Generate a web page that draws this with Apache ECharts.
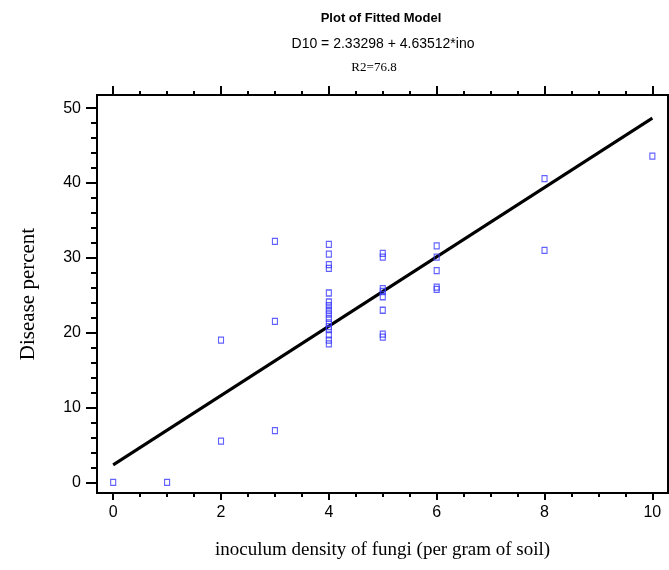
<!DOCTYPE html>
<html>
<head>
<meta charset="utf-8">
<script src="https://cdn.jsdelivr.net/npm/echarts@6/dist/echarts.min.js"></script>
<style>
html,body{margin:0;padding:0;background:#fff;}
#chart{width:669px;height:570px;}
</style>
</head>
<body>
<div id="chart"></div>
<script>
// ---- data ----
var pointX = [0, 1, 2, 2, 3, 3, 3,
  4, 4, 4, 4, 4, 4, 4, 4, 4, 4, 4, 4, 4, 4, 4, 4,
  5, 5, 5, 5, 5, 5, 5, 5,
  6, 6, 6, 6, 6,
  8, 8, 10];
var pointY = [0, 0, 19.0, 5.5, 32.2, 21.5, 6.9,
  31.8, 30.5, 29.1, 28.6, 25.3, 24.1, 23.6, 23.0, 22.5, 21.9, 21.3, 20.8, 20.4, 19.7, 19.0, 18.5,
  30.6, 30.1, 25.9, 25.5, 24.8, 23.0, 19.8, 19.4,
  31.6, 30.1, 28.3, 26.1, 25.8,
  40.6, 31.0, 43.6];
var fitX = [0, 10];
var fitY = [2.33, 48.68];
var xMajorTicks = [0, 2, 4, 6, 8, 10];
var xMinorTicks = [0.5, 1, 1.5, 2.5, 3, 3.5, 4.5, 5, 5.5, 6.5, 7, 7.5, 8.5, 9, 9.5];
var yMajorTicks = [0, 10, 20, 30, 40, 50];
var yMinorTicks = [2, 4, 6, 8, 12, 14, 16, 18, 22, 24, 26, 28, 32, 34, 36, 38, 42, 44, 46, 48];
var titleText = 'Plot of Fitted Model';
var equationText = 'D10 = 2.33298 + 4.63512*ino';
var r2Text = 'R2=76.8';
var xName = 'inoculum density of fungi (per gram of soil)';
var yName = 'Disease percent';

var sans = "'Liberation Sans Narrow', 'Arial Narrow', 'Liberation Sans', Arial, sans-serif";
var serif = "'Liberation Serif', 'Times New Roman', serif";

var scatterData = pointX.map(function (x, i) { return [x, pointY[i]]; });
var fitData = fitX.map(function (x, i) { return [x, fitY[i]]; });

function xAx(pos, ticks, len, labels) {
  return {
    type: 'value', position: pos, min: -0.3, max: 10.29,
    axisLine: { show: false, onZero: false },
    splitLine: { show: false },
    axisTick: { show: true, inside: false, length: len, customValues: ticks,
      lineStyle: { color: '#000', width: 2 } },
    axisLabel: labels ? { show: true, customValues: ticks, margin: 12,
      fontFamily: sans, fontSize: 16, color: '#000' } : { show: false }
  };
}
function yAx(ticks, len, labels) {
  var a = {
    type: 'value', position: 'left', min: -1.43, max: 51.77,
    axisLine: { show: false, onZero: false },
    splitLine: { show: false },
    axisTick: { show: true, inside: false, length: len, customValues: ticks,
      lineStyle: { color: '#000', width: 2 } },
    axisLabel: labels ? { show: true, customValues: ticks, margin: 16,
      fontFamily: sans, fontSize: 16, color: '#000' } : { show: false }
  };
  if (labels) {
    a.name = yName; a.nameLocation = 'middle'; a.nameGap = 58; a.nameRotate = 90;
    a.nameTextStyle = { fontFamily: serif, fontSize: 21, color: '#000' };
  }
  return a;
}

var xAxes = [xAx('bottom', xMajorTicks, 7, true), xAx('bottom', xMinorTicks, 4, false),
  xAx('top', xMajorTicks, 9, false), xAx('top', xMinorTicks, 4, false)];
xAxes[0].name = xName; xAxes[0].nameLocation = 'middle'; xAxes[0].nameGap = 48;
xAxes[0].nameTextStyle = { fontFamily: serif, fontSize: 19, color: '#000' };

var chart = echarts.init(document.getElementById('chart'), null, { renderer: 'canvas' });
chart.setOption({
  animation: false,
  backgroundColor: '#fff',
  title: [
    { text: titleText, left: 376, top: 7, textAlign: 'center',
      textStyle: { fontFamily: sans, fontSize: 13, fontWeight: 'bold', color: '#000' } },
    { text: equationText, left: 378, top: 32, textAlign: 'center',
      textStyle: { fontFamily: sans, fontSize: 14, fontWeight: 'normal', color: '#000' } },
    { text: r2Text, left: 369, top: 56, textAlign: 'center',
      textStyle: { fontFamily: serif, fontSize: 13, fontWeight: 'normal', color: '#000' } }
  ],
  grid: { left: 97, top: 95, right: 1, bottom: 77, show: true,
    borderColor: '#000', borderWidth: 2, backgroundColor: 'transparent' },
  xAxis: xAxes,
  yAxis: [yAx(yMajorTicks, 11, true), yAx(yMinorTicks, 6, false)],
  series: [
    { type: 'line', data: fitData, xAxisIndex: 0, yAxisIndex: 0, showSymbol: false,
      symbol: 'none', lineStyle: { color: '#000', width: 3 }, z: 2 },
    { type: 'scatter', data: scatterData, xAxisIndex: 0, yAxisIndex: 0,
      symbol: 'rect', symbolSize: [5, 6],
      itemStyle: { color: 'rgba(255,255,255,0)', borderColor: '#3a3aff', borderWidth: 1.2 }, z: 3 }
  ]
});
</script>
</body>
</html>
